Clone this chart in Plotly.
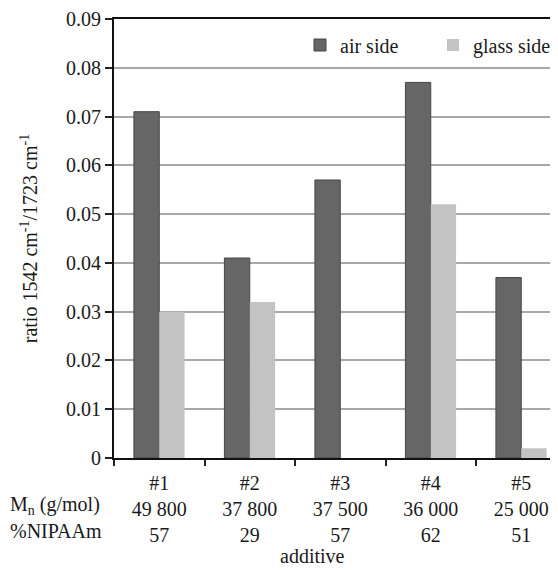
import plotly.graph_objects as go

additive = ["#1", "#2", "#3", "#4", "#5"]
mn_gmol = ["49 800", "37 800", "37 500", "36 000", "25 000"]
nipaam_pct = ["57", "29", "57", "62", "51"]
air_side = [0.071, 0.041, 0.057, 0.077, 0.037]
glass_side = [0.030, 0.032, 0.0, 0.052, 0.002]
y_ticks = [0, 0.01, 0.02, 0.03, 0.04, 0.05, 0.06, 0.07, 0.08, 0.09]
y_ticktext = ["0", "0.01", "0.02", "0.03", "0.04", "0.05", "0.06", "0.07", "0.08", "0.09"]

FONT = "Liberation Serif, Times New Roman, serif"
TXT = "#1a1a1a"
FS = 20

ticktext = [f"{a}<br>{m}<br>{n}" for a, m, n in zip(additive, mn_gmol, nipaam_pct)]

fig = go.Figure()
fig.add_trace(go.Bar(name="air side", x=additive, y=air_side, legendwidth=88,
                     marker=dict(color="#666666", line=dict(color="#474747", width=1))))
fig.add_trace(go.Bar(name="glass side", x=additive, y=glass_side, legendwidth=80,
                     marker=dict(color="#c3c3c3", line=dict(width=0))))

# page body has an 8px default margin, so the figure is drawn 8px in/down
OFF = 8
W, H = 558 - OFF, 572 - OFF
ml, mr, mt = 114 - OFF, 0, 19 - OFF
bottom_abs = 458
mb = H - (bottom_abs - OFF)
pw = W - ml - mr
ph = H - mt - mb
cat_px = 90.5


def py(abs_y):
    return ((bottom_abs - OFF) - (abs_y - OFF)) / ph


def px(abs_x):
    return ((abs_x - OFF) - ml) / pw


fig.update_layout(
    width=W, height=H,
    margin=dict(l=ml, r=mr, t=mt, b=mb, pad=0),
    paper_bgcolor="white", plot_bgcolor="white",
    font=dict(family=FONT, size=FS, color=TXT),
    barmode="group", bargap=0.44, bargroupgap=0,
    showlegend=True,
    legend=dict(orientation="h", x=1, xanchor="right",
                y=py(45), yanchor="middle",
                bgcolor="rgba(0,0,0,0)", entrywidthmode="pixels",
                font=dict(family=FONT, size=FS, color=TXT)),
    xaxis=dict(
        type="category",
        range=[-0.5, -0.5 + pw / cat_px],
        tickmode="array", tickvals=additive, ticktext=ticktext,
        tickson="boundaries", ticks="outside", ticklen=6, tickcolor="#222",
        tickwidth=1.5,
        showline=True, linecolor="#111", linewidth=2, mirror=True,
        showgrid=False, ticklabelstandoff=6,
        tickfont=dict(family=FONT, size=FS, color=TXT),
    ),
    yaxis=dict(
        range=[0, 0.09], tickmode="array", tickvals=y_ticks, ticktext=y_ticktext,
        ticks="outside", ticklen=7, tickcolor="#222", tickwidth=1.5,
        showline=True, linecolor="#111", linewidth=2,
        showgrid=True, gridcolor="#a8a8a8", gridwidth=1.5,
        zeroline=False,
        tickfont=dict(family=FONT, size=FS, color=TXT),
        title=dict(text="ratio 1542 cm<sup>-1</sup>/1723 cm<sup>-1</sup>",
                   font=dict(family=FONT, size=FS, color=TXT), standoff=23),
    ),
)

fig.add_annotation(text="M<sub>n</sub> (g/mol)", xref="paper", yref="paper",
                   x=px(8), y=py(506), xanchor="left", yanchor="middle",
                   showarrow=False, font=dict(family=FONT, size=FS, color=TXT))
fig.add_annotation(text="%NIPAAm", xref="paper", yref="paper",
                   x=px(8), y=py(531), xanchor="left", yanchor="middle",
                   showarrow=False, font=dict(family=FONT, size=FS, color=TXT))
fig.add_annotation(text="additive", xref="paper", yref="paper",
                   x=px(312), y=py(556), xanchor="center", yanchor="middle",
                   showarrow=False, font=dict(family=FONT, size=FS, color=TXT))

fig.write_html("out.html")
